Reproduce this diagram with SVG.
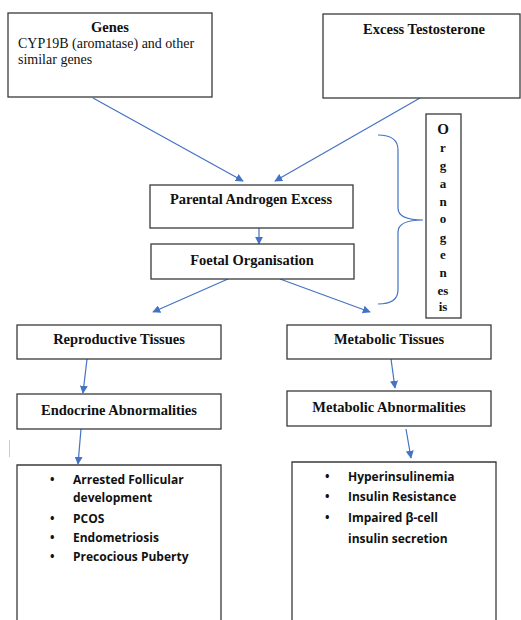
<svg xmlns="http://www.w3.org/2000/svg" width="521" height="620" viewBox="0 0 521 620">
<defs>
<marker id="ah" viewBox="0 0 10 10" refX="9" refY="5" markerWidth="8" markerHeight="8" markerUnits="userSpaceOnUse" orient="auto">
<path d="M0,0 L10,5 L0,10 z" fill="#4472C4"/>
</marker>
<style>
.box{fill:#fff;stroke:#3a3a3a;stroke-width:1.3}
.t{font-family:"Liberation Serif","Times New Roman",serif;font-size:14.5px;font-weight:bold;fill:#111;text-anchor:middle}
.r{font-family:"Liberation Serif","Times New Roman",serif;font-size:14px;fill:#111}
.b{font-family:"Open Sans","Liberation Sans",sans-serif;font-size:12px;font-weight:bold;fill:#111}
.c{stroke:#4472C4;stroke-width:1.2;fill:none;marker-end:url(#ah)}
.ol{font-family:"Liberation Serif","Times New Roman",serif;font-size:13px;font-weight:bold;fill:#111;text-anchor:middle}
</style>
</defs>
<rect width="521" height="620" fill="#fff"/>
<g id="connectors">
<line class="c" x1="93" y1="98" x2="243" y2="181"/>
<line class="c" x1="420" y1="98" x2="275" y2="181"/>
<line class="c" x1="259" y1="228" x2="259" y2="244"/>
<line class="c" x1="228" y1="279" x2="153" y2="312"/>
<line class="c" x1="280" y1="279" x2="370" y2="312"/>
<line class="c" x1="87" y1="359" x2="83" y2="393"/>
<line class="c" x1="391" y1="359" x2="395" y2="388"/>
<line class="c" x1="81" y1="429" x2="78" y2="464"/>
<line class="c" x1="406" y1="429" x2="411" y2="458"/>
<path d="M378,135 Q398,135 398,150 L398,208 Q398,220 423,220 Q398,220 398,232 L398,290 Q398,304 378,304" stroke="#4472C4" stroke-width="1.2" fill="none"/>
</g>
<g id="genes">
<rect class="box" x="8" y="13" width="204" height="84"/>
<text class="t" x="110" y="32">Genes</text>
<text class="r" x="18" y="48">CYP19B (aromatase) and other</text>
<text class="r" x="18" y="64">similar genes</text>
</g>
<g id="testosterone">
<rect class="box" x="323" y="14" width="197" height="84"/>
<text class="t" x="424" y="34">Excess Testosterone</text>
</g>
<g id="parental">
<rect class="box" x="150" y="185" width="203" height="43"/>
<text class="t" x="251" y="204">Parental Androgen Excess</text>
</g>
<g id="foetal">
<rect class="box" x="151" y="244" width="203" height="35"/>
<text class="t" x="252" y="265">Foetal Organisation</text>
</g>
<g id="organogenesis">
<rect class="box" x="426" y="114" width="35" height="204"/>
<text class="ol" x="443" y="134" style="font-size:15px">O</text>
<text class="ol" x="443" y="152">r</text>
<text class="ol" x="443" y="170">g</text>
<text class="ol" x="443" y="188">a</text>
<text class="ol" x="443" y="206">n</text>
<text class="ol" x="443" y="223">o</text>
<text class="ol" x="443" y="242">g</text>
<text class="ol" x="443" y="259">e</text>
<text class="ol" x="443" y="277">n</text>
<text class="ol" x="443" y="295">es</text>
<text class="ol" x="443" y="311">is</text>
</g>
<g id="reproductive">
<rect class="box" x="17" y="325" width="204" height="34"/>
<text class="t" x="119" y="344">Reproductive Tissues</text>
</g>
<g id="metabolic">
<rect class="box" x="287" y="325" width="204" height="34"/>
<text class="t" x="389" y="344">Metabolic Tissues</text>
</g>
<g id="endocrine">
<rect class="box" x="17" y="394" width="204" height="35"/>
<text class="t" x="119" y="415">Endocrine Abnormalities</text>
</g>
<g id="metabolicabn">
<rect class="box" x="287" y="391" width="204" height="35"/>
<text class="t" x="389" y="412">Metabolic Abnormalities</text>
</g>
<g id="endolist">
<path d="M17,621 L17,465 L221,465 L221,621" class="box"/>
<text class="b" x="50" y="484">•</text>
<text class="b" x="73" y="484">Arrested Follicular</text>
<text class="b" x="73" y="502">development</text>
<text class="b" x="50" y="523">•</text>
<text class="b" x="73" y="523">PCOS</text>
<text class="b" x="50" y="542">•</text>
<text class="b" x="73" y="542">Endometriosis</text>
<text class="b" x="50" y="561">•</text>
<text class="b" x="73" y="561">Precocious Puberty</text>
</g>
<g id="metablist">
<path d="M292,621 L292,462 L496,462 L496,621" class="box"/>
<text class="b" x="325" y="481">•</text>
<text class="b" x="348" y="481">Hyperinsulinemia</text>
<text class="b" x="325" y="501">•</text>
<text class="b" x="348" y="501">Insulin Resistance</text>
<text class="b" x="325" y="522">•</text>
<text class="b" x="348" y="522">Impaired β-cell</text>
<text class="b" x="348" y="543">insulin secretion</text>
</g>
<line x1="9.5" y1="440" x2="9.5" y2="457" stroke="#ccc" stroke-width="1"/>
</svg>
